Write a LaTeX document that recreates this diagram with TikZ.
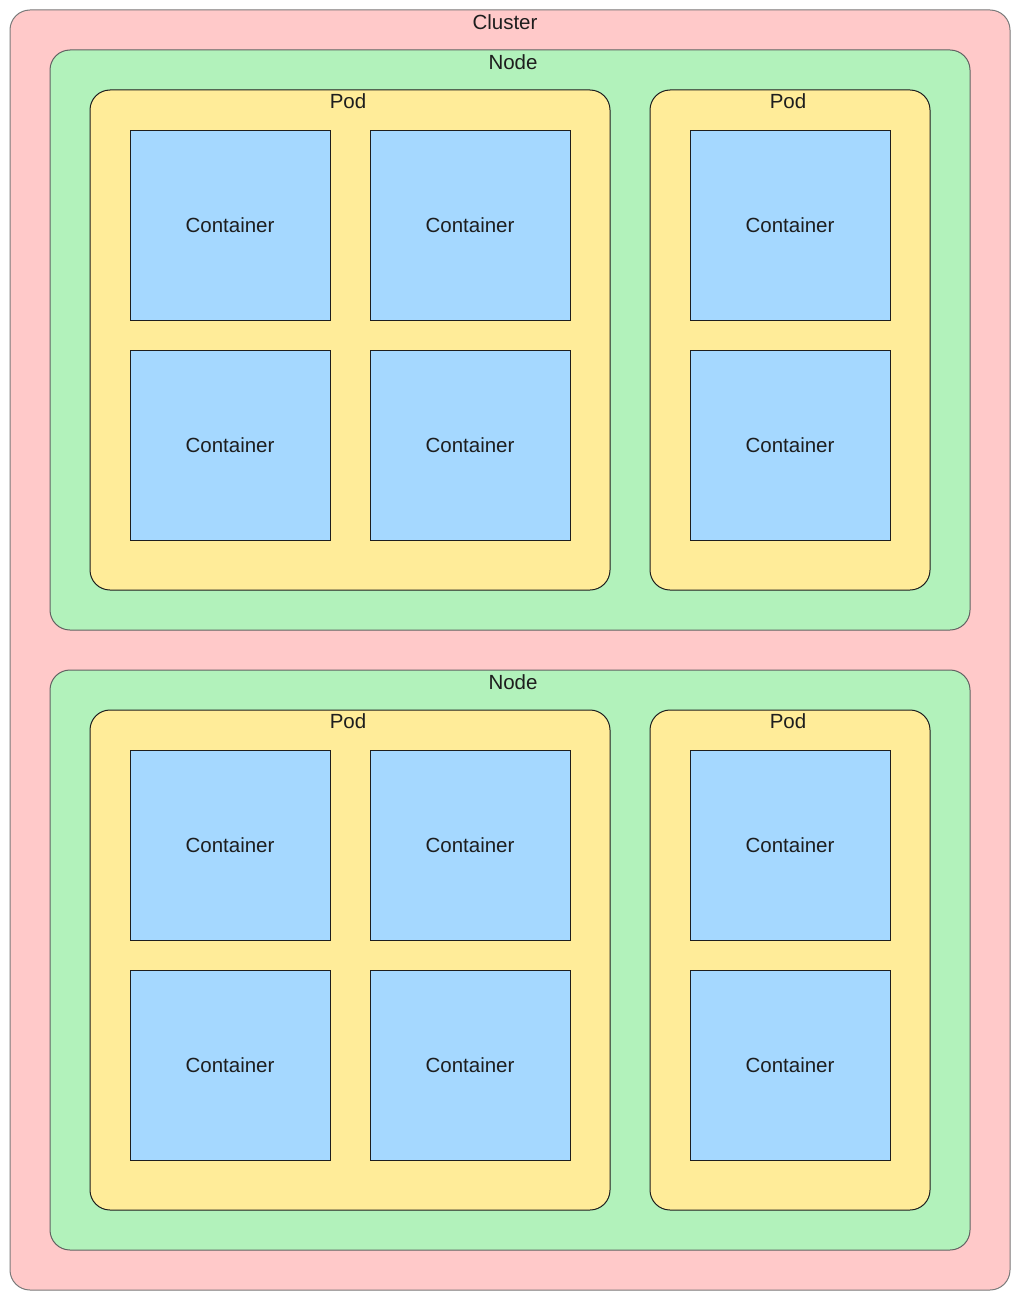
\documentclass[tikz,border=0pt]{standalone}
\usepackage{fontspec}
\setmainfont{Liberation Sans}
\definecolor{clusterfill}{HTML}{FFC9C9}
\definecolor{nodefill}{HTML}{B2F2BB}
\definecolor{podfill}{HTML}{FFEC99}
\definecolor{contfill}{HTML}{A5D8FF}
\definecolor{graystroke}{HTML}{7A7A7A}
\definecolor{ink}{HTML}{1E1E1E}
\begin{document}
\begin{tikzpicture}[x=1pt,y=-1pt,
  lbl/.style={font=\fontsize{20.5}{20.5}\selectfont, text=ink, inner sep=0pt},
  clusterbox/.style={draw=graystroke, fill=clusterfill, rounded corners=20pt, line width=1pt},
  nodebox/.style={draw=graystroke!80!black, fill=nodefill, rounded corners=20pt, line width=1pt},
  podbox/.style={draw=ink, fill=podfill, rounded corners=20pt, line width=1pt},
  contbox/.style={draw=ink, fill=contfill, line width=0.8pt, inner sep=0pt}]
\useasboundingbox (0,0) rectangle (1020,1300);
% cluster
\draw[clusterbox] (10,10) rectangle (1010,1290);
\node[lbl] (clusterlbl) at (505,22) {Cluster};
% two nodes
\foreach \n/\dy in {1/0,2/620}{
  \draw[nodebox] (50,50+\dy) rectangle (970,630+\dy);
  \node[lbl] (nodelbl\n) at (513,62+\dy) {Node};
  \draw[podbox] (90,90+\dy) rectangle (610,590+\dy);
  \node[lbl] (podlblA\n) at (348,101+\dy) {Pod};
  \draw[podbox] (650,90+\dy) rectangle (930,590+\dy);
  \node[lbl] (podlblB\n) at (788,101+\dy) {Pod};
  \foreach \cx/\cy/\k in {130/130/a,370/130/b,130/350/c,370/350/d,690/130/e,690/350/f}{
    \draw[contbox] (\cx,\cy+\dy) rectangle (\cx+200,\cy+190+\dy);
    \node[lbl] (cont\n\k) at (\cx+100,\cy+95+\dy) {Container};
  }
}
\end{tikzpicture}
\end{document}
